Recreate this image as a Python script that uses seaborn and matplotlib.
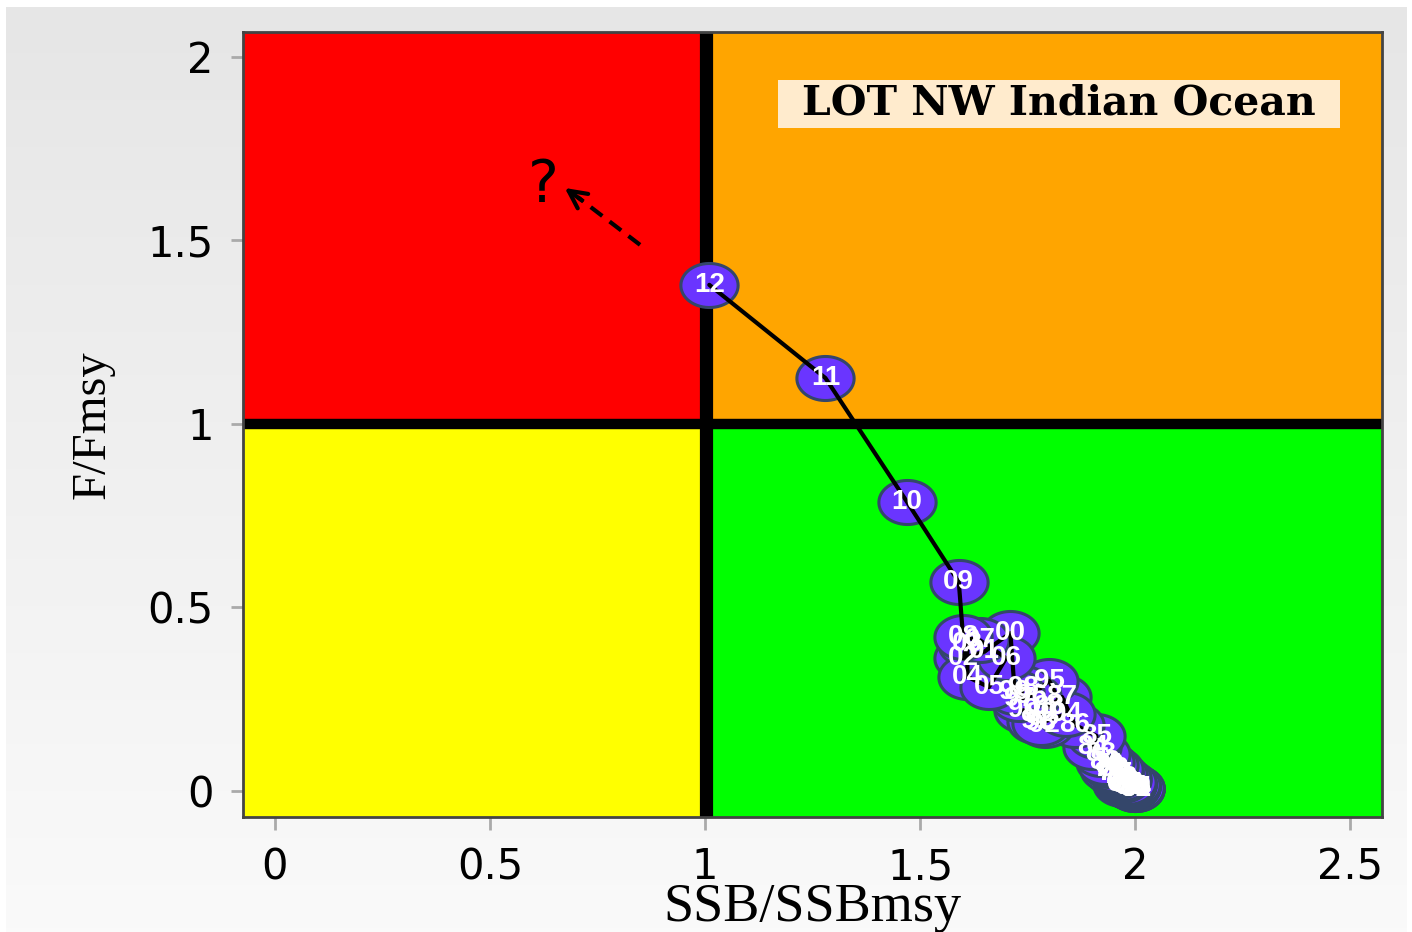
import numpy as np
import pandas as pd
import matplotlib
matplotlib.use("Agg")
import matplotlib.pyplot as plt
from matplotlib.path import Path
from matplotlib.patches import Rectangle
import seaborn as sns

# ---------------- data ----------------
years = list(range(1950, 2013))
ssb_ratio = [
    2.00, 2.00, 2.00, 2.00, 2.00, 2.00, 1.99, 1.99, 1.99, 1.99,   # 50-59
    1.99, 1.99, 1.98, 1.98, 1.98, 1.98, 1.97, 1.97, 1.97, 1.97,   # 60-69
    1.98, 1.98, 1.97, 1.97, 1.96, 1.96, 1.95, 1.95, 1.94, 1.94,   # 70-79
    1.95, 1.94, 1.93, 1.92, 1.90, 1.91, 1.86, 1.83, 1.80, 1.78,   # 80-89
    1.74, 1.77, 1.79, 1.78, 1.84, 1.80, 1.76, 1.73, 1.74, 1.72,   # 90-99
    1.71, 1.65, 1.60, 1.61, 1.61, 1.66, 1.70, 1.64, 1.60, 1.59,   # 00-09
    1.47, 1.28, 1.01]                                             # 10-12
f_ratio = [
    0.005, 0.005, 0.006, 0.007, 0.008, 0.009, 0.010, 0.011, 0.012, 0.013,
    0.014, 0.015, 0.016, 0.017, 0.018, 0.019, 0.020, 0.022, 0.024, 0.026,
    0.020, 0.025, 0.030, 0.035, 0.040, 0.045, 0.050, 0.052, 0.060, 0.070,
    0.060, 0.070, 0.080, 0.100, 0.120, 0.150, 0.180, 0.256, 0.230, 0.210,
    0.220, 0.190, 0.180, 0.185, 0.210, 0.300, 0.260, 0.250, 0.280, 0.270,
    0.430, 0.380, 0.362, 0.400, 0.311, 0.283, 0.362, 0.410, 0.420, 0.569,
    0.787, 1.125, 1.379]
labels = [f"{y % 100:02d}" for y in years]

title_text = "LOT NW Indian Ocean"
x_label = "SSB/SSBmsy"
y_label = "F/Fmsy"
x_ticks = [0, 0.5, 1, 1.5, 2, 2.5]
x_ticklabels = ["0", "0.5", "1", "1.5", "2", "2.5"]
y_ticks = [0, 0.5, 1, 1.5, 2]
y_ticklabels = ["0", "0.5", "1", "1.5", "2"]

# arrow / question mark anchors (data coords)
arrow_start = (0.849, 1.488)
arrow_end = (0.674, 1.643)
qmark_pos = (0.623, 1.651)

df = pd.DataFrame({"ssb": ssb_ratio, "f": f_ratio, "lab": labels})

# ---------------- figure ----------------
sns.set_theme(style="white")
plt.rcParams['font.family'] = ['Liberation Sans', 'DejaVu Sans']
plt.rcParams['text.color'] = 'black'

fig = plt.figure(figsize=(14.12, 9.32), dpi=100)
fig.patch.set_facecolor("white")

# gradient background
bg = fig.add_axes([0.004, 0.0, 0.992, 0.993], zorder=-10)
grad = np.linspace(0, 1, 256).reshape(-1, 1)
bg.imshow(grad, aspect="auto", cmap=matplotlib.colors.LinearSegmentedColormap.from_list(
    "g", ["#e6e6e6", "#fafafa"]), extent=[0, 1, 0, 1])
bg.set_axis_off()

ax = fig.add_axes([0.1721, 0.1234, 0.8067, 0.8423])
xmin, xmax = -0.074, 2.574
ymin, ymax = -0.071, 2.068
ax.set_xlim(xmin, xmax)
ax.set_ylim(ymin, ymax)

# quadrants
ax.add_patch(Rectangle((xmin, 1), 1 - xmin, ymax - 1, color="#ff0000", zorder=0))
ax.add_patch(Rectangle((1, 1), xmax - 1, ymax - 1, color="#ffa500", zorder=0))
ax.add_patch(Rectangle((xmin, ymin), 1 - xmin, 1 - ymin, color="#ffff00", zorder=0))
ax.add_patch(Rectangle((1, ymin), xmax - 1, 1 - ymin, color="#00ff00", zorder=0))
ax.axvline(1.002, color="black", lw=9.5, zorder=1)
ax.axhline(1.0, color="black", lw=7.5, zorder=1)

# ellipse marker
t = np.linspace(0, 2 * np.pi, 60)
ell = Path(np.column_stack([1.3 * np.cos(t), np.sin(t)]), closed=True)

sns.scatterplot(data=df, x="ssb", y="f", ax=ax, marker=ell, s=1700,
                color="#6a35ff", edgecolor="#34466a", linewidth=2.2,
                zorder=3, legend=False)
sns.lineplot(data=df, x="ssb", y="f", ax=ax, sort=False, estimator=None,
             color="black", lw=3, zorder=4, legend=False)

for xv, yv, lab in zip(ssb_ratio, f_ratio, labels):
    ax.text(xv, yv, lab, color="white", fontsize=20, fontweight="bold",
            ha="center", va="center", zorder=5)

# title box
ax.add_patch(Rectangle((1.170, 1.807), 1.307, 0.130, facecolor="#ffebcd",
                       edgecolor="none", zorder=6))
ax.text(1.823, 1.873, title_text, fontsize=29.5, fontweight="bold",
        family=["DejaVu Serif"], color="black",
        ha="center", va="center", zorder=7)

# dashed arrow and question mark
ax.plot([arrow_start[0], arrow_end[0] + 0.03], [arrow_start[1], arrow_end[1] - 0.025],
        color="black", lw=3, ls=(0, (3.5, 2.2)), zorder=6)
ax.annotate("", xy=arrow_end, xytext=(arrow_end[0] + 0.04, arrow_end[1] - 0.034),
            arrowprops=dict(arrowstyle="->", lw=3, color="black", mutation_scale=32,
                            shrinkA=0, shrinkB=0), zorder=6)
ax.text(qmark_pos[0], qmark_pos[1], "?", fontsize=42, color="black",
        family=["DejaVu Sans"], ha="center", va="center", zorder=6)

# axes styling
ax.set_xticks(x_ticks)
ax.set_xticklabels(x_ticklabels)
ax.set_yticks(y_ticks)
ax.set_yticklabels(y_ticklabels)
ax.tick_params(axis="both", which="major", labelsize=30, length=9, width=2,
               color="#aaaaaa", labelcolor="black", direction="out", pad=12,
               bottom=True, left=True)
for lbl in ax.get_xticklabels() + ax.get_yticklabels():
    lbl.set_family(["DejaVu Sans"])
for sp in ax.spines.values():
    sp.set_color("#444444")
    sp.set_linewidth(2)
ax.set_xlabel(x_label, fontsize=39, color="black",
              family=["Liberation Serif", "DejaVu Serif"], labelpad=-4)
ax.set_ylabel(y_label, fontsize=35, color="black",
              family=["Liberation Serif", "DejaVu Serif"], labelpad=24)
ax.grid(False)

fig.savefig("out.png", dpi=100)
